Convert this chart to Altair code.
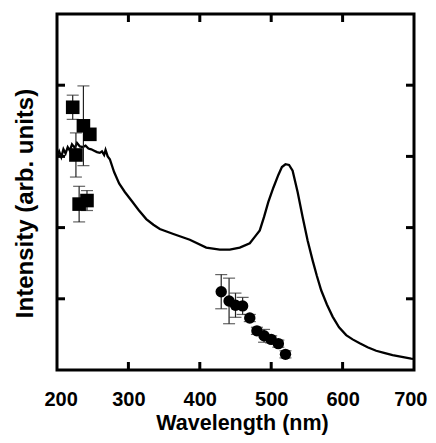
import altair as alt
import pandas as pd

# Spectrum (solid line)
line_x = [200, 203, 206, 209, 212, 215, 218, 221, 225, 228, 232, 236, 240, 244, 248,
          252, 256, 260, 263, 266, 268, 271, 274, 280, 287, 295, 305, 314, 325, 335,
          344, 363, 386, 409, 428, 442, 456, 470, 477, 484, 490, 496, 503, 510, 515,
          520, 525, 530, 537, 544, 551, 558, 564, 570, 578, 586, 595, 605, 614, 624,
          635, 647, 658, 670, 683, 696, 700]
line_y = [3.00, 3.07, 2.99, 3.10, 3.04, 3.13, 3.08, 3.17, 3.12, 3.19, 3.14, 3.13, 3.15, 3.11, 3.10,
          3.08, 3.06, 3.05, 3.07, 3.02, 3.09, 3.00, 2.96, 2.78, 2.62, 2.50, 2.37, 2.25, 2.12, 2.04,
          1.98, 1.91, 1.83, 1.72, 1.69, 1.69, 1.72, 1.78, 1.87, 1.96, 2.15, 2.36, 2.56, 2.74, 2.85,
          2.89, 2.88, 2.80, 2.50, 2.15, 1.82, 1.54, 1.32, 1.12, 0.92, 0.75, 0.60, 0.49, 0.43, 0.375,
          0.32, 0.27, 0.24, 0.21, 0.185, 0.16, 0.155]

# Squares with error bars
sq_x = [222, 237, 246, 226.5, 231, 242]
sq_y = [3.69, 3.43, 3.31, 3.02, 2.33, 2.38]
sq_err = [0.17, 0.56, 0.08, 0.31, 0.25, 0.14]

# Circles with error bars
ci_x = [430, 441, 450, 460, 470, 480, 490, 500, 510, 520]
ci_y = [1.10, 0.97, 0.91, 0.90, 0.73, 0.55, 0.48, 0.43, 0.37, 0.22]
ci_err = [0.24, 0.32, 0.17, 0.12, 0.05, 0.05, 0.09, 0.05, 0.05, 0.05]

x_ticks = [300, 400, 500, 600]
y_ticks = [1, 2, 3, 4]
x_labels = [200, 300, 400, 500, 600, 700]

W, H = 357, 356
FONT = "Liberation Sans"

line_df = pd.DataFrame({"x": line_x, "y": line_y})
sq_df = pd.DataFrame({"x": sq_x, "y": sq_y, "e": sq_err})
ci_df = pd.DataFrame({"x": ci_x, "y": ci_y, "e": ci_err})
err_df = pd.concat([sq_df, ci_df], ignore_index=True)
err_df["lo"] = err_df["y"] - err_df["e"]
err_df["hi"] = err_df["y"] + err_df["e"]

xscale = alt.Scale(domain=[200, 700], nice=False)
yscale = alt.Scale(domain=[0, 5], nice=False)

xaxis = alt.Axis(values=x_labels, ticks=False, domain=False, grid=False,
                 labelFlush=True, labelFlushOffset=13,
                 labelFont=FONT, labelFontSize=20, labelFontWeight="bold", labelColor="black",
                 labelPadding=19, title="Wavelength (nm)", titleFont=FONT, titleFontSize=21.5,
                 titleFontWeight="bold", titleColor="black", titleY=42, titleX=185)
yaxis = alt.Axis(labels=False, ticks=False, domain=False, grid=False,
                 title="Intensity (arb. units)", titleFont=FONT, titleFontSize=24,
                 titleFontWeight="bold", titleColor="black", titleX=-20, titleY=189)

base_line = alt.Chart(line_df).mark_line(color="black", strokeWidth=2.3).encode(
    x=alt.X("x:Q", scale=xscale, axis=xaxis),
    y=alt.Y("y:Q", scale=yscale, axis=yaxis),
)

err_rule = alt.Chart(err_df).mark_rule(color="#222222", strokeWidth=1.2).encode(
    x="x:Q", y="lo:Q", y2="hi:Q")
cap_lo = alt.Chart(err_df).mark_tick(color="#222222", thickness=1.2, size=12, orient="horizontal").encode(
    x="x:Q", y="lo:Q")
cap_hi = alt.Chart(err_df).mark_tick(color="#222222", thickness=1.2, size=12, orient="horizontal").encode(
    x="x:Q", y="hi:Q")

squares = alt.Chart(sq_df).mark_point(shape="square", filled=True, color="black", size=185, opacity=1).encode(
    x="x:Q", y="y:Q")
circles = alt.Chart(ci_df).mark_circle(color="black", size=130, opacity=1).encode(
    x="x:Q", y="y:Q")

xt_df = pd.DataFrame({"t": x_ticks})
yt_df = pd.DataFrame({"t": y_ticks})
tick_style = dict(color="black", strokeWidth=3)
bt = alt.Chart(xt_df).mark_rule(**tick_style).encode(x="t:Q", y=alt.value(H), y2=alt.value(H - 8))
tt = alt.Chart(xt_df).mark_rule(**tick_style).encode(x="t:Q", y=alt.value(0), y2=alt.value(8))
lt = alt.Chart(yt_df).mark_rule(**tick_style).encode(y="t:Q", x=alt.value(0), x2=alt.value(8))
rt = alt.Chart(yt_df).mark_rule(**tick_style).encode(y="t:Q", x=alt.value(W), x2=alt.value(W - 8))

chart = alt.layer(base_line, err_rule, cap_lo, cap_hi, squares, circles, bt, tt, lt, rt).properties(
    width=W, height=H,
    autosize=alt.AutoSizeParams(type="none"),
    padding={"left": 49, "top": 6, "right": 14, "bottom": 65},
    background="white",
).configure_view(stroke="black", strokeWidth=3)

chart.save("out.html", embed_options={"renderer": "svg", "actions": False})
